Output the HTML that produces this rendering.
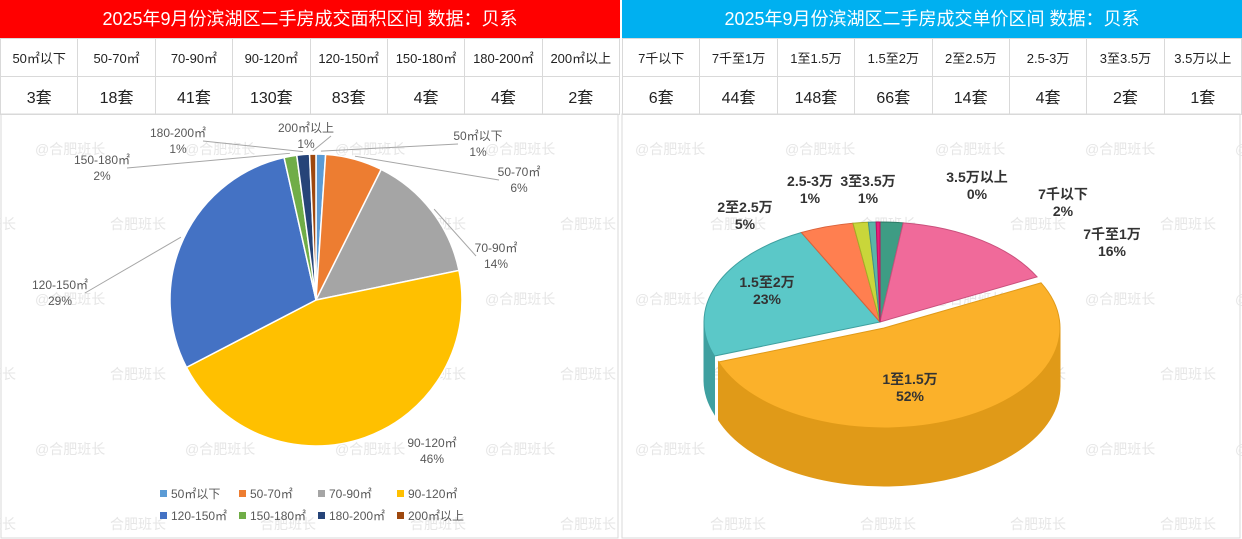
<!DOCTYPE html>
<html><head><meta charset="utf-8">
<style>
body{margin:0;width:1242px;height:539px;background:#fff;overflow:hidden;position:relative;font-family:"Liberation Sans","Noto Sans CJK SC",sans-serif;}
.hdr{position:absolute;top:0;height:38px;color:#fff;font-size:18px;text-align:center;line-height:38px;font-family:"Liberation Sans","Noto Sans CJK SC",sans-serif;}
table{position:absolute;top:38px;border-collapse:collapse;table-layout:fixed;}
td{border:1px solid #d9d9d9;text-align:center;color:#222;height:37px;padding:0;}
tr.l td{font-size:13px}
tr.v td{font-size:16px}
svg{position:absolute;left:0;top:0}
</style></head><body>
<div class="hdr" style="left:0;width:620px;background:#ff0000">2025年9月份滨湖区二手房成交面积区间 数据：贝系</div>
<div class="hdr" style="left:622px;width:620px;background:#00b0f0">2025年9月份滨湖区二手房成交单价区间 数据：贝系</div>
<table style="left:0;width:620px">
<tr class="l"><td>50㎡以下</td><td>50-70㎡</td><td>70-90㎡</td><td>90-120㎡</td><td>120-150㎡</td><td>150-180㎡</td><td>180-200㎡</td><td>200㎡以上</td></tr>
<tr class="v"><td>3套</td><td>18套</td><td>41套</td><td>130套</td><td>83套</td><td>4套</td><td>4套</td><td>2套</td></tr></table>
<table style="left:622px;width:620px">
<tr class="l"><td>7千以下</td><td>7千至1万</td><td>1至1.5万</td><td>1.5至2万</td><td>2至2.5万</td><td>2.5-3万</td><td>3至3.5万</td><td>3.5万以上</td></tr>
<tr class="v"><td>6套</td><td>44套</td><td>148套</td><td>66套</td><td>14套</td><td>4套</td><td>2套</td><td>1套</td></tr></table>
<svg id="s" width="1242" height="539">
<rect x="1" y="114" width="617" height="424" fill="none" stroke="#d9d9d9"/>
<rect x="622" y="114" width="618" height="424" fill="none" stroke="#d9d9d9"/>
</svg>
<script>
const areaCats=["50㎡以下","50-70㎡","70-90㎡","90-120㎡","120-150㎡","150-180㎡","180-200㎡","200㎡以上"];
const areaVals=[3,18,41,130,83,4,4,2];
const areaPct=["1%","6%","14%","46%","29%","2%","1%","1%"];
const priceCats=["7千以下","7千至1万","1至1.5万","1.5至2万","2至2.5万","2.5-3万","3至3.5万","3.5万以上"];
const priceVals=[6,44,148,66,14,4,2,1];
const pricePct=["2%","16%","52%","23%","5%","1%","1%","0%"];

const NS="http://www.w3.org/2000/svg";
const svg=document.getElementById('s');
function mk(t,a,p){const e=document.createElementNS(NS,t);for(const k in a)e.setAttribute(k,a[k]);(p||svg).appendChild(e);return e;}
for(let r=0;r<6;r++)for(let c=0;c<9;c++){
  const t=mk('text',{x:35+c*150+(r%2)*-75,y:154+r*75,fill:'#e6e6e6','font-size':14});
  
  
  t.textContent=(r%2?'合肥班长':'@合肥班长');
}
const lc=["#5b9bd5","#ed7d31","#a5a5a5","#ffc000","#4472c4","#70ad47","#264478","#9e480e"];
const cx=316,cy=300,R=146;
const tot=areaVals.reduce((a,b)=>a+b,0);
let a0=0;
const lblPos=[[478,140],[519,176],[496,252],[432,447],[60,289],[102,164],[178,137],[306,132]];
areaVals.forEach((v,i)=>{
  const a1=a0+v/tot*2*Math.PI;
  const p=(a)=>[cx+R*Math.sin(a),cy-R*Math.cos(a)];
  const [x0,y0]=p(a0),[x1,y1]=p(a1);
  const s=mk('path',{d:`M${cx},${cy}L${x0},${y0}A${R},${R} 0 ${a1-a0>Math.PI?1:0} 1 ${x1},${y1}Z`,fill:lc[i],stroke:'#fff','stroke-width':1.5});
  
  
  const m=(a0+a1)/2,[mx,my]=[cx+(R+3)*Math.sin(m),cy-(R+3)*Math.cos(m)];
  const [lx,ly]=lblPos[i];
  if(i!==3){const ln=mk('line',{x1:mx,y1:my,x2:lx+(lx<cx?25:-20),y2:ly+4,stroke:'#a6a6a6'});
  
  }
  const t=mk('text',{x:lx,y:ly,'text-anchor':'middle','font-size':12,fill:'#595959'});
  
  
  t.innerHTML=`<tspan x="${lx}">${areaCats[i]}</tspan><tspan x="${lx}" dy="16">${areaPct[i]}</tspan>`;
  a0=a1;
});
areaCats.forEach((c,i)=>{
  const x=160+(i%4)*79,y=494+Math.floor(i/4)*22;
  const r=mk('rect',{x:x,y:y-4,width:7,height:7,fill:lc[i]});
  
  
  const t=mk('text',{x:x+11,y:y+4,'font-size':12,fill:'#595959'});
  
  
  t.textContent=c;
});
const rc=["#3e9c84","#f06a9a","#fbb12a","#5bc8c8","#ff7f50","#c9d63a","#5bb5a8","#e8207a"];
const sd=["#2e7a66","#c9507c","#e09a18","#3fa0a0","#d9613a","#a3ad25","#3f918a","#b8125e"];
const X=880,Y=322,RX=176,RY=100,D=58;
const ptot=priceVals.reduce((a,b)=>a+b,0);
let b0=0;const sl=[];
priceVals.forEach((v,i)=>{const b1=b0+v/ptot*2*Math.PI;sl.push([b0,b1]);b0=b1;});
function off(i){return i===2?[4,6]:[0,0];}
const P=(a,ox,oy)=>[X+ox+RX*Math.sin(a),Y+oy-RY*Math.cos(a)];
sl.forEach(([s0,s1],i)=>{
  const lo=Math.max(s0,Math.PI/2),hi=Math.min(s1,1.5*Math.PI);
  if(hi<=lo)return;
  const [ox,oy]=off(i);
  const [ax,ay]=P(lo,ox,oy),[bx,by]=P(hi,ox,oy);
  const p=mk('path',{d:`M${ax},${ay}A${RX},${RY} 0 0 1 ${bx},${by}L${bx},${by+D}A${RX},${RY} 0 0 0 ${ax},${ay+D}Z`,fill:sd[i],stroke:sd[i]});
  
  
});
sl.forEach(([s0,s1],i)=>{
  const [ox,oy]=off(i);
  const [ax,ay]=P(s0,ox,oy),[bx,by]=P(s1,ox,oy);
  const p=mk('path',{d:`M${X+ox},${Y+oy}L${ax},${ay}A${RX},${RY} 0 ${s1-s0>Math.PI?1:0} 1 ${bx},${by}Z`,fill:rc[i],stroke:sd[i],'stroke-width':1});
  
  
});
const rl=[[1063,199],[1112,239],[910,384],[767,287],[745,212],[810,186],[868,186],[977,182]];
rl.forEach(([lx,ly],i)=>{
  const t=mk('text',{x:lx,y:ly,'text-anchor':'middle','font-size':14,'font-weight':'bold',fill:'#333'});
  
  
  t.innerHTML=`<tspan x="${lx}">${priceCats[i]}</tspan><tspan x="${lx}" dy="17">${pricePct[i]}</tspan>`;
});
</script>
</body></html>
